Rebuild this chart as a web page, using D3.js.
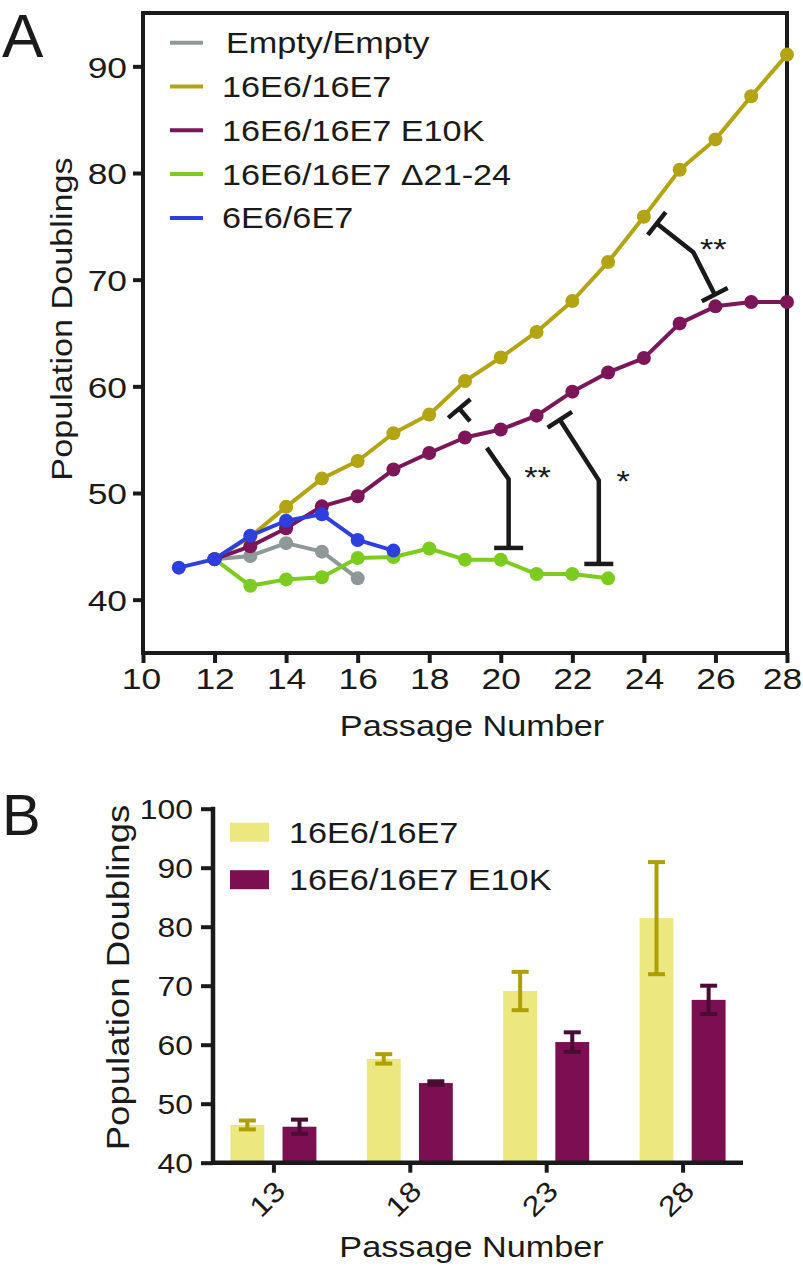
<!DOCTYPE html>
<html><head><meta charset="utf-8">
<script src="https://cdn.jsdelivr.net/npm/d3@7"></script>
<style>body{margin:0;background:#fff}svg{display:block}</style>
</head><body><svg id="c" width="803" height="1270"></svg>
<script>
// ---------- Panel A data ----------
const passageTicks = [10,12,14,16,18,20,22,24,26,28];
const yTicksA = [40,50,60,70,80,90];
const seriesNames = ["Empty/Empty","16E6/16E7","16E6/16E7 E10K","16E6/16E7 \u039421-24","6E6/6E7"];
const seriesColors = ["#8e9898","#b3a414","#7d1659","#7ccb1f","#2d3fde"];

const emptyPassages = [12,13,14,15,16];
const emptyValues   = [43.8,44.1,45.3,44.5,42.0];
const wtPassages = [12,13,14,15,16,17,18,19,20,21,22,23,24,25,26,27,28];
const wtValues   = [43.8,45.9,48.7,51.35,53.0,55.6,57.35,60.5,62.7,65.1,68.0,71.65,75.9,80.3,83.15,87.2,91.1];
const e10kPassages = [12,13,14,15,16,17,18,19,20,21,22,23,24,25,26,27,28];
const e10kValues   = [43.8,45.0,46.7,48.75,49.7,52.2,53.75,55.2,55.95,57.25,59.5,61.3,62.65,65.9,67.5,67.9,67.9];
const delPassages = [12,13,14,15,16,17,18,19,20,21,22,23];
const delValues   = [43.8,41.3,41.9,42.1,43.9,44.0,44.8,43.75,43.75,42.4,42.4,42.0];
const hpv6Passages = [11,12,13,14,15,16,17];
const hpv6Values   = [43.0,43.8,46.0,47.4,48.0,45.6,44.6];

// significance brackets (data coordinates), each a list of polylines
const bracket1 = [[[24.36,75.27],[25.38,72.58],[25.98,68.6]]];
const bracket2 = [[[18.84,57.92],[19.14,56.73]],[[19.61,54.23],[20.22,51.3],[20.22,44.85]]];
const bracket3 = [[[21.65,56.86],[22.74,51.19],[22.74,43.35]]];
const starLabels = [["**",25.94,73.46],["**",21.03,52.1],["*",23.42,51.73]];

// ---------- Panel B data ----------
const barCategories = ["13","18","23","28"];
const barSeries = ["16E6/16E7","16E6/16E7 E10K"];
const yTicksB = [40,50,60,70,80,90,100];
const wtMeans = [46.4,57.6,69.1,81.45];
const wtErr   = [0.75,0.8,3.25,9.5];
const e10kMeans = [46.1,53.5,60.45,67.6];
const e10kErr   = [1.2,0.3,1.65,2.4];
const barColors = ["#ece77e","#7b0f52"];
const errColors = ["#aea000","#4b0c33"];

// ---------- helpers ----------
const FONT = "'Liberation Sans', Arial, Helvetica, sans-serif";
const SX = 1.18;
const INK = "#1a1a1a";
const svg = d3.select("#c");

function label(parent, x, y, str, o={}) {
  const size=o.size||29, anchor=o.anchor||"start", rot=o.rot||0, sx=(o.sx===undefined?SX:o.sx);
  return parent.append("text")
    .attr("transform",`translate(${x},${y}) rotate(${rot}) scale(${sx},1)`)
    .attr("text-anchor",anchor).attr("font-family",FONT)
    .attr("font-size",size).attr("fill",o.fill||INK).text(str);
}

// ================= PANEL A =================
const xA = d3.scaleLinear().domain([10,28]).range([143,787]);
const yA = d3.scaleLinear().domain([35,95]).range([653,13]);
const gA = svg.append("g");

// frame
gA.append("rect").attr("x",xA(10)).attr("y",yA(95)).attr("width",xA(28)-xA(10)).attr("height",yA(35)-yA(95))
  .attr("fill","none").attr("stroke",INK).attr("stroke-width",4);

const gxA = gA.append("g").attr("transform",`translate(0,${yA(35)})`)
  .call(d3.axisBottom(xA).tickValues(passageTicks).tickSize(10).tickSizeOuter(0).tickFormat(d3.format("d")));
gxA.select(".domain").remove();
gxA.selectAll(".tick line").attr("stroke",INK).attr("stroke-width",4);
gxA.selectAll(".tick text").attr("y",null).attr("dy",null)
  .attr("transform",(d,i,n)=>`translate(${i===0?-2:(i===n.length-1?-5:0)},36) scale(${SX},1)`)
  .attr("font-family",FONT).attr("font-size",30).attr("fill",INK);

const gyA = gA.append("g").attr("transform",`translate(${xA(10)},0)`)
  .call(d3.axisLeft(yA).tickValues(yTicksA).tickSize(10).tickSizeOuter(0));
gyA.select(".domain").remove();
gyA.selectAll(".tick line").attr("stroke",INK).attr("stroke-width",4);
gyA.selectAll(".tick text").attr("x",null).attr("dy","0.36em")
  .attr("transform",`translate(-16,0) scale(${SX},1)`)
  .attr("font-family",FONT).attr("font-size",30).attr("fill",INK);

// brackets
const pxLine = d3.line().x(d=>xA(d[0])).y(d=>yA(d[1]));
function drawBracket(polys){
  const g = gA.append("g").attr("stroke",INK).attr("stroke-width",4.5).attr("fill","none");
  polys.forEach(p=>g.append("path").attr("d",pxLine(p)));
  const capAt=(a,b)=>{ // cap at point a, perpendicular to segment a-b
    const ax=xA(a[0]), ay=yA(a[1]), bx=xA(b[0]), by=yA(b[1]);
    let dx=bx-ax, dy=by-ay; const L=Math.hypot(dx,dy); dx/=L; dy/=L;
    const h=14.5;
    g.append("line").attr("x1",ax-dy*h).attr("y1",ay+dx*h).attr("x2",ax+dy*h).attr("y2",ay-dx*h);
  };
  const first=polys[0], last=polys[polys.length-1];
  capAt(first[0],first[1]);
  capAt(last[last.length-1],last[last.length-2]);
}
[bracket1,bracket2,bracket3].forEach(drawBracket);
starLabels.forEach(s=>label(gA, xA(s[1]), yA(s[2])+16, s[0], {anchor:"middle", size:29}));

// series
const seriesData = [
  [emptyPassages,emptyValues],[wtPassages,wtValues],[e10kPassages,e10kValues],
  [delPassages,delValues],[hpv6Passages,hpv6Values]
];
const drawOrder = [0,3,1,2,4];
const line = d3.line().x(d=>xA(d[0])).y(d=>yA(d[1]));
drawOrder.forEach(i=>{
  const pts = seriesData[i][0].map((p,k)=>[p,seriesData[i][1][k]]);
  const g = gA.append("g");
  g.append("path").attr("d",line(pts)).attr("fill","none").attr("stroke",seriesColors[i]).attr("stroke-width",4).attr("stroke-linejoin","round");
  g.selectAll("circle").data(pts).join("circle").attr("cx",d=>xA(d[0])).attr("cy",d=>yA(d[1])).attr("r",7).attr("fill",seriesColors[i]);
});

// legend A
seriesNames.forEach((n,i)=>{
  const cy = 42.7 + i*43.8;
  gA.append("line").attr("x1",170).attr("x2",203).attr("y1",cy).attr("y2",cy).attr("stroke",seriesColors[i]).attr("stroke-width",4);
  label(gA, i===0?226:222, cy+10.5, n, {size:29});
});

// titles A
label(gA, 472, 736, "Passage Number", {anchor:"middle", size:29});
label(gA, 72, 319, "Population Doublings", {anchor:"middle", size:29, rot:-90});
label(svg, 2, 57, "A", {size:62, sx:1});

// ================= PANEL B =================
const gB = svg.append("g");
const xB = d3.scalePoint().domain(barCategories).range([213,743]).padding(0.443);
const xSub = d3.scaleBand().domain(barSeries).range([-43,43]).paddingInner(0.35);
const yB = d3.scaleLinear().domain([40,100]).range([1162.7,808.7]);

const means = [wtMeans,e10kMeans], errs=[wtErr,e10kErr];
barSeries.forEach((s,si)=>{
  const g = gB.append("g");
  g.selectAll("rect").data(barCategories).join("rect")
    .attr("x",(c)=>xB(c)+xSub(s)).attr("width",xSub.bandwidth())
    .attr("y",(c,k)=>yB(means[si][k])).attr("height",(c,k)=>yB(40)-yB(means[si][k]))
    .attr("fill",barColors[si]);
  const e = gB.append("g").attr("stroke",errColors[si]).attr("stroke-width",4);
  barCategories.forEach((c,k)=>{
    const cx = xB(c)+xSub(s)+xSub.bandwidth()/2;
    const lo = yB(means[si][k]-errs[si][k]), hi = yB(means[si][k]+errs[si][k]);
    e.append("line").attr("x1",cx).attr("x2",cx).attr("y1",lo).attr("y2",hi);
    e.append("line").attr("x1",cx-8.5).attr("x2",cx+8.5).attr("y1",lo).attr("y2",lo);
    e.append("line").attr("x1",cx-8.5).attr("x2",cx+8.5).attr("y1",hi).attr("y2",hi);
  });
});

// axes B
gB.append("line").attr("x1",213).attr("x2",743).attr("y1",yB(40)).attr("y2",yB(40)).attr("stroke",INK).attr("stroke-width",4.5);
gB.append("line").attr("x1",213).attr("x2",213).attr("y1",yB(100)-2).attr("y2",yB(40)+2).attr("stroke",INK).attr("stroke-width",4.5);
const gyB = gB.append("g").attr("transform","translate(213,0)")
  .call(d3.axisLeft(yB).tickValues(yTicksB).tickSize(12).tickSizeOuter(0));
gyB.select(".domain").remove();
gyB.selectAll(".tick line").attr("stroke",INK).attr("stroke-width",4);
gyB.selectAll(".tick text").attr("x",null).attr("dy","0.36em")
  .attr("transform",`translate(-20,0) scale(${SX},1)`)
  .attr("font-family",FONT).attr("font-size",27).attr("fill",INK);

const gxB = gB.append("g").attr("transform",`translate(0,${yB(40)})`)
  .call(d3.axisBottom(xB).tickSize(10).tickSizeOuter(0));
gxB.select(".domain").remove();
gxB.selectAll(".tick line").attr("stroke",INK).attr("stroke-width",4);
gxB.selectAll(".tick text").attr("y",null).attr("dy",null).attr("text-anchor","end")
  .attr("transform",`translate(13,30) rotate(-45) scale(${SX},1)`)
  .attr("font-family",FONT).attr("font-size",28).attr("fill",INK);

// legend B
barSeries.forEach((s,i)=>{
  const cy = 832.2 + i*47.5;
  gB.append("rect").attr("x",230).attr("y",cy-9.5).attr("width",39).attr("height",19).attr("fill",barColors[i]);
  label(gB, 289, cy+10.5, s, {size:29});
});

label(gB, 471.5, 1257, "Passage Number", {anchor:"middle", size:29});
label(gB, 129, 977.5, "Population Doublings", {anchor:"middle", size:31, rot:-90});
label(svg, 2, 835, "B", {size:58, sx:1});
</script>
</body></html>
